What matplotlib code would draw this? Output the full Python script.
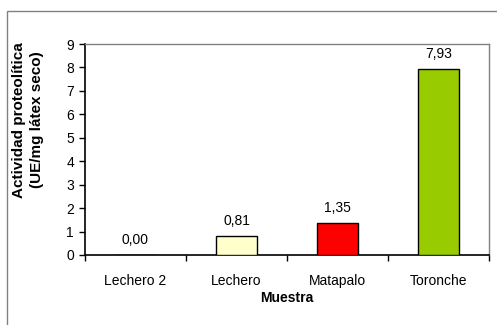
import matplotlib
matplotlib.use("Agg")
import matplotlib.pyplot as plt
from matplotlib.patches import Rectangle

categorias = ["Lechero 2", "Lechero", "Matapalo", "Toronche"]
actividad = [0.00, 0.81, 1.35, 7.93]
colores = ["#FFFFCC", "#FFFFCC", "#FF0000", "#99CC00"]
y_ticks = list(range(0, 10))

plt.rcParams["font.family"] = ["Liberation Sans", "DejaVu Sans"]
FS = 10

fig = plt.figure(figsize=(4.97, 3.25), dpi=100)
fig.patch.set_facecolor("white")

# outer chart frame
fig.patches.append(Rectangle((7 / 497, -0.05), 1.2, 1 - 11 / 325 + 0.05,
                             transform=fig.transFigure, fill=False,
                             edgecolor="#808080", linewidth=1.0))

ax = fig.add_axes([85 / 497, 1 - 255 / 325, (489 - 85) / 497, (255 - 44) / 325])
x = list(range(len(categorias)))
ax.bar(x, actividad, width=0.4, color=colores, edgecolor="black", linewidth=1.0, zorder=3)

for xi, v in zip(x, actividad):
    ax.annotate(f"{v:.2f}".replace(".", ","), (xi, v), xytext=(0, 6),
                textcoords="offset points", ha="center", va="bottom", fontsize=FS)

ax.set_xlim(-0.5, len(categorias) - 0.5)
ax.set_ylim(0, 9)
ax.set_yticks(y_ticks)
ax.tick_params(axis="y", labelsize=FS, length=4, width=1, direction="out", pad=4)

# category labels between boundary ticks
ax.set_xticks([i + 0.5 for i in range(-1, len(categorias))])
ax.set_xticklabels([])
ax.tick_params(axis="x", length=4, width=1, direction="out")
ax.set_xticks(x, minor=True)
ax.set_xticklabels(categorias, minor=True)
ax.tick_params(axis="x", which="minor", length=0, labelsize=FS, pad=14)

for s in ("left", "bottom"):
    ax.spines[s].set_color("black")
    ax.spines[s].set_linewidth(1.2)
for s in ("top", "right"):
    ax.spines[s].set_color("#808080")
    ax.spines[s].set_linewidth(1.0)

fig.text(28 / 497, 1 - 120 / 325, "Actividad proteolítica\n(UE/mg látex seco)",
         rotation=90, ha="center", va="center", fontsize=11, fontweight="bold",
         linespacing=1.3)
fig.text(287 / 497, 1 - 298 / 325, "Muestra", ha="center", va="center",
         fontsize=FS, fontweight="bold")

fig.savefig("out.png", dpi=100)
